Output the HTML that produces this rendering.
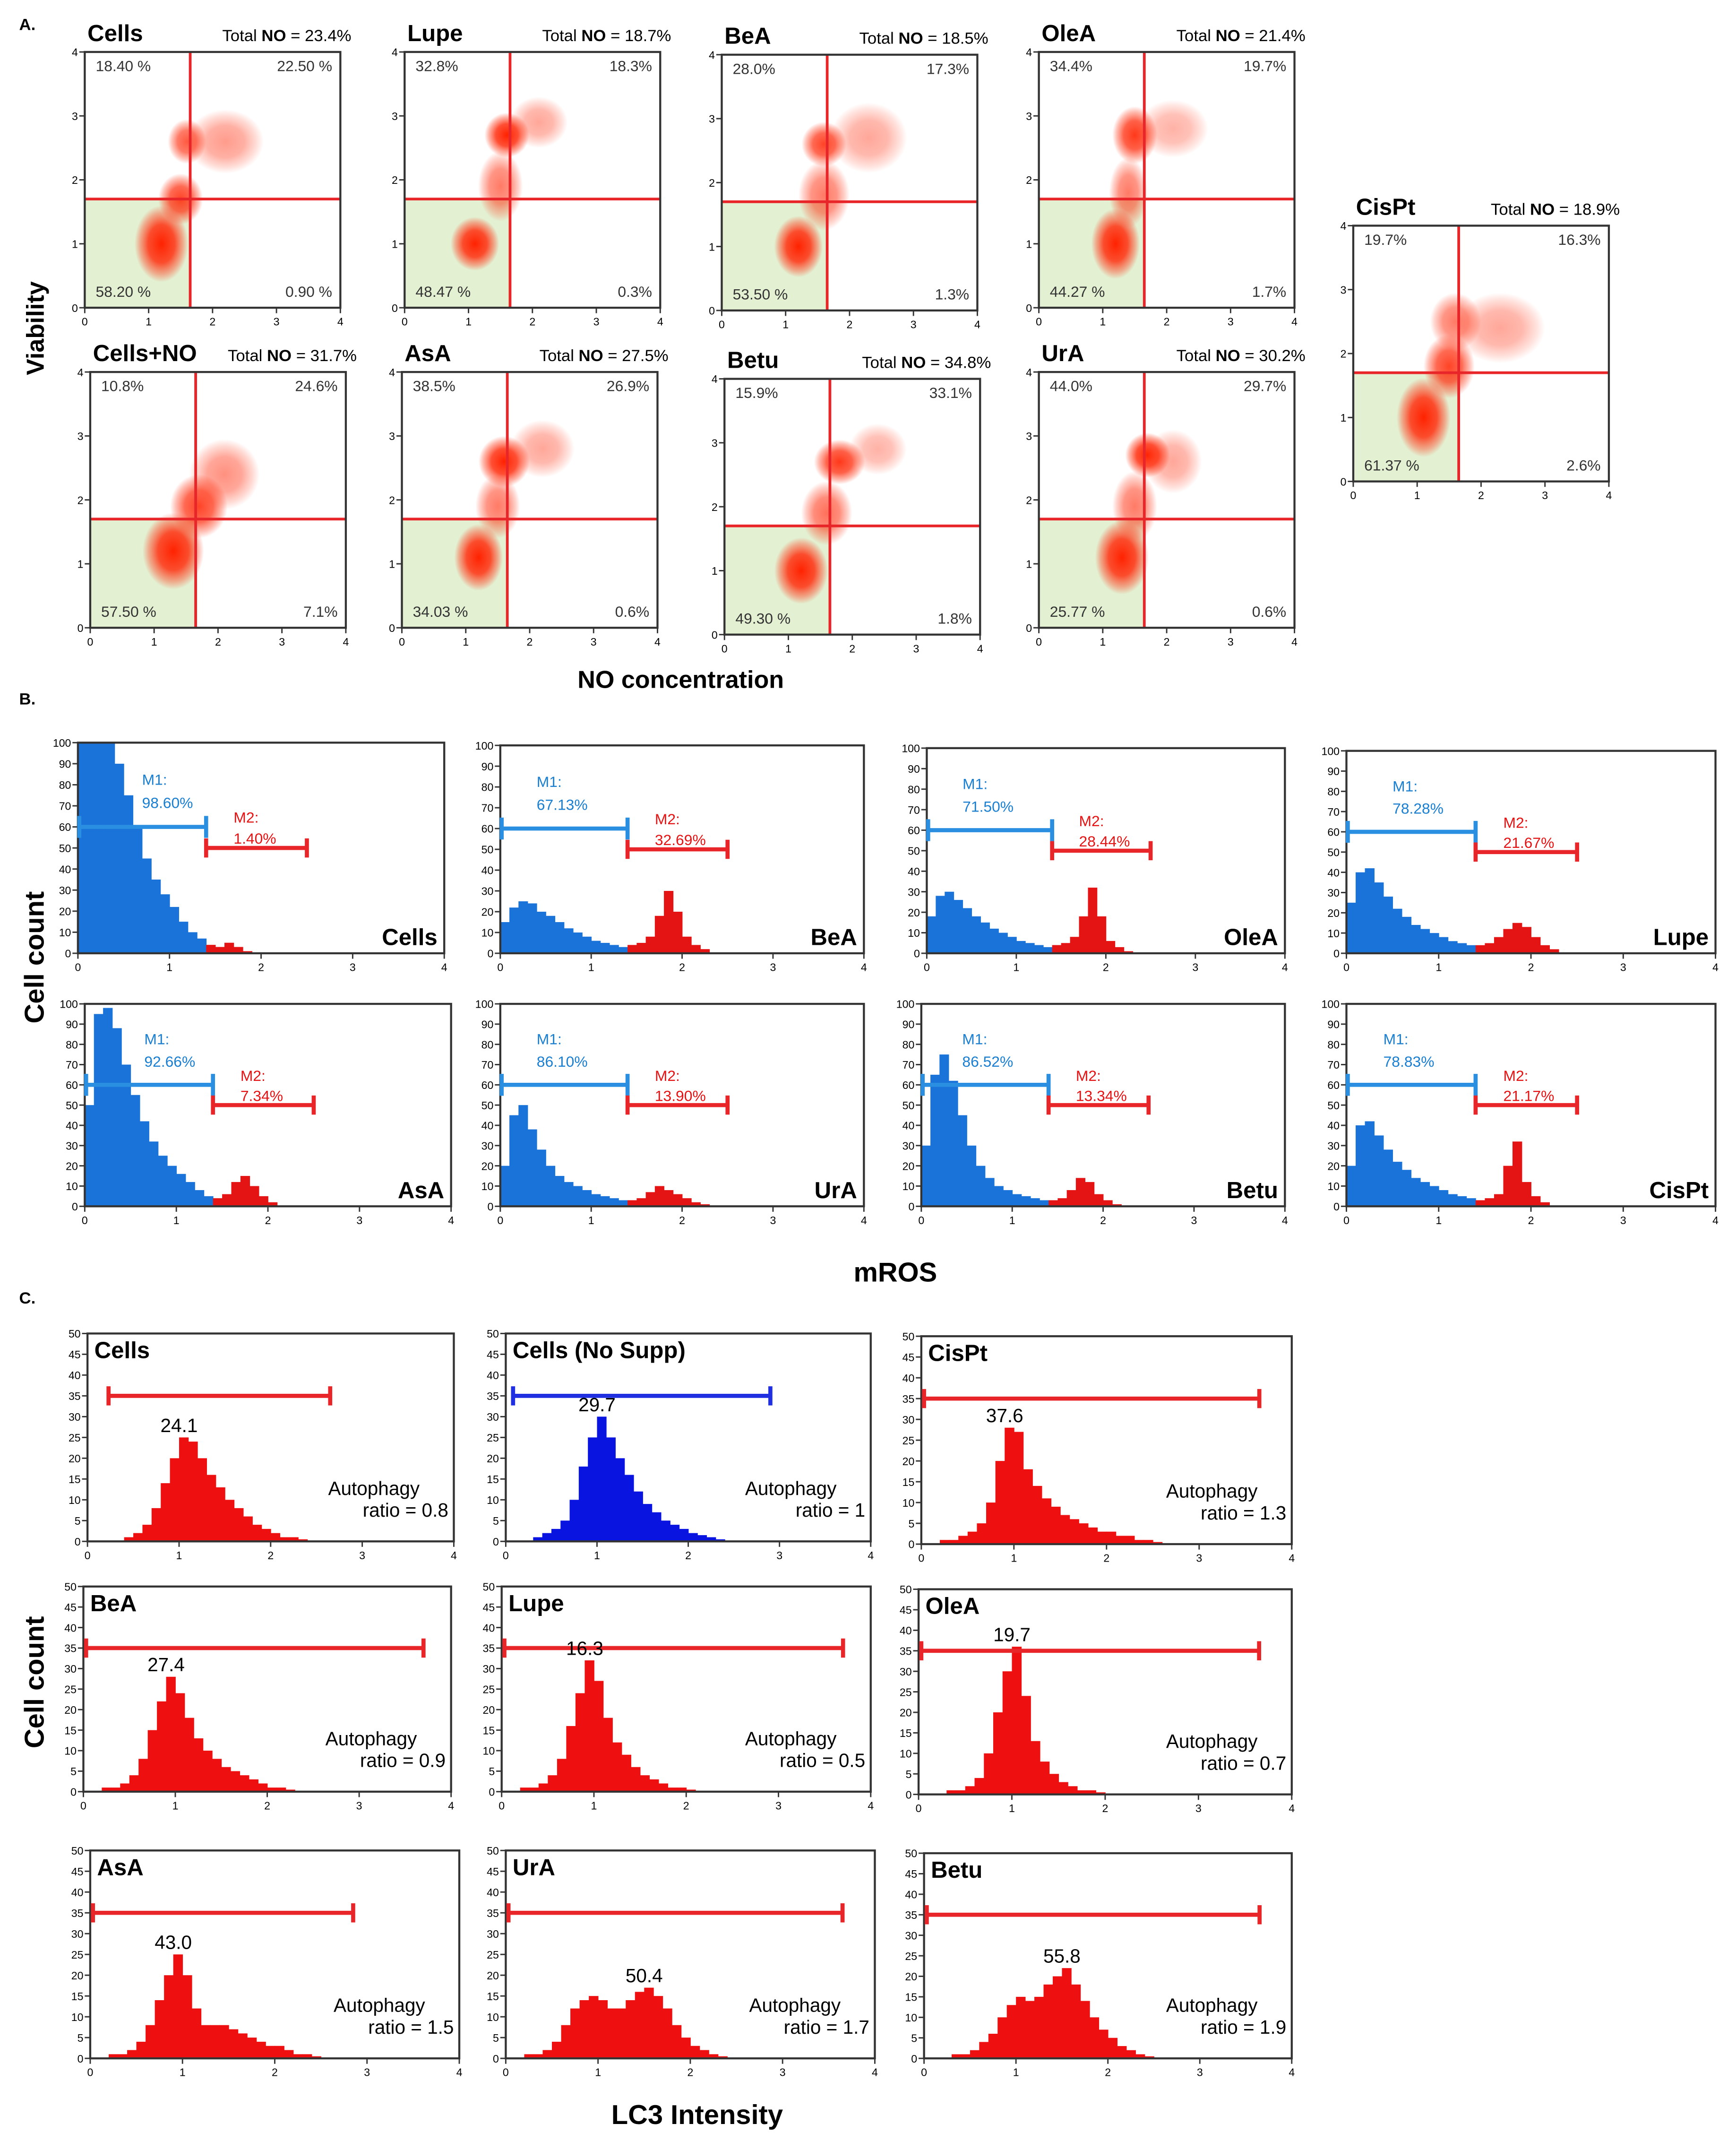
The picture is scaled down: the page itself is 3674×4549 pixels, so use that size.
<!DOCTYPE html>
<html><head><meta charset="utf-8"><style>
html,body{margin:0;padding:0;background:#fff}
svg{display:block}
text{font-family:"Liberation Sans",sans-serif}
</style></head><body>
<svg id="fig" xmlns="http://www.w3.org/2000/svg" width="3674" height="4549" viewBox="0 0 1270 1572" preserveAspectRatio="none">
<defs>
<radialGradient id="rg"><stop offset="0" stop-color="#ff2200" stop-opacity="1"/><stop offset="0.5" stop-color="#ff3010" stop-opacity="0.85"/><stop offset="0.8" stop-color="#ff4020" stop-opacity="0.4"/><stop offset="1" stop-color="#ff4020" stop-opacity="0"/></radialGradient>
</defs>
<g id="root"></g>
</svg>
<script>
// ---------- Section A scatter data ----------
const scatterNames=["Cells","Lupe","BeA","OleA","CisPt","Cells+NO","AsA","Betu","UrA"];
const totalNO=["23.4%","18.7%","18.5%","21.4%","18.9%","31.7%","27.5%","34.8%","30.2%"];
const quadUL=["18.40 %","32.8%","28.0%","34.4%","19.7%","10.8%","38.5%","15.9%","44.0%"];
const quadUR=["22.50 %","18.3%","17.3%","19.7%","16.3%","24.6%","26.9%","33.1%","29.7%"];
const quadLL=["58.20 %","48.47 %","53.50 %","44.27 %","61.37 %","57.50 %","34.03 %","49.30 %","25.77 %"];
const quadLR=["0.90 %","0.3%","1.3%","1.7%","2.6%","7.1%","0.6%","1.8%","0.6%"];
// clusters: [cx, cy, sx, sy, intensity] in data units
const scatterClusters=[
 [[1.2,1.0,0.42,0.6,1],[1.5,1.7,0.35,0.4,0.85],[1.6,2.6,0.3,0.35,0.75],[2.2,2.6,0.6,0.5,0.45]],
 [[1.1,1.0,0.38,0.42,1],[1.6,2.7,0.35,0.35,1],[1.5,1.9,0.35,0.55,0.6],[2.1,2.9,0.45,0.4,0.4]],
 [[1.2,1.0,0.38,0.48,1],[1.6,2.6,0.35,0.35,0.85],[1.6,1.8,0.4,0.55,0.6],[2.3,2.7,0.6,0.55,0.4]],
 [[1.2,1.0,0.38,0.55,1],[1.5,2.7,0.35,0.45,0.9],[1.4,1.8,0.3,0.55,0.6],[2.1,2.8,0.55,0.45,0.35]],
 [[1.1,1.0,0.42,0.62,1],[1.5,1.8,0.4,0.5,0.85],[1.6,2.5,0.4,0.45,0.6],[2.3,2.4,0.7,0.55,0.4]],
 [[1.3,1.2,0.48,0.6,1],[1.7,1.9,0.45,0.5,0.85],[2.1,2.4,0.55,0.55,0.5]],
 [[1.2,1.1,0.38,0.52,1],[1.6,2.6,0.4,0.4,1],[1.5,1.9,0.35,0.5,0.6],[2.2,2.8,0.5,0.45,0.4]],
 [[1.2,1.0,0.42,0.52,1],[1.8,2.7,0.4,0.35,0.9],[1.6,1.9,0.4,0.5,0.65],[2.4,2.9,0.45,0.4,0.35]],
 [[1.3,1.1,0.42,0.58,1],[1.7,2.7,0.35,0.35,1],[1.5,1.9,0.35,0.55,0.6],[2.1,2.6,0.45,0.5,0.4]]
];
const gateX=1.65, gateY=1.7;
// ---------- Section B mROS histograms (0.1-wide bins from 0) ----------
const rosNames=["Cells","BeA","OleA","Lupe","AsA","UrA","Betu","CisPt"];
const rosM1=["98.60%","67.13%","71.50%","78.28%","92.66%","86.10%","86.52%","78.83%"];
const rosM2=["1.40%","32.69%","28.44%","21.67%","7.34%","13.90%","13.34%","21.17%"];
const rosBins=[
 [100,100,100,100,90,75,60,45,35,28,22,15,10,7,4,3,5,3,1,0],
 [15,22,25,24,20,18,15,12,10,8,6,5,4,3,4,5,8,18,30,20,8,4,2,0],
 [18,28,30,26,22,18,15,12,10,8,6,5,4,3,4,5,8,18,32,18,6,3,1,0],
 [25,40,42,35,28,22,18,14,12,10,8,6,5,4,4,5,8,12,15,13,8,4,2,0],
 [50,95,98,88,70,55,42,32,25,20,16,12,8,5,4,6,12,15,10,5,2,0],
 [20,45,50,38,28,20,15,12,10,8,6,5,4,3,3,4,7,10,8,6,4,2,1,0],
 [30,65,75,62,45,30,20,14,10,8,6,5,4,3,3,4,8,14,12,6,3,1,0],
 [20,40,42,35,28,22,18,14,12,10,8,6,5,4,3,4,6,20,32,12,5,2,0]
];
const rosM1LabelX=[0.7,0.4,0.4,0.5,0.65,0.4,0.45,0.4];
const rosSplit=1.4, rosM2End=2.5;
// ---------- Section C LC3 histograms ----------
const lcNames=["Cells","Cells (No Supp)","CisPt","BeA","Lupe","OleA","AsA","UrA","Betu"];
const lcPeakLabel=["24.1","29.7","37.6","27.4","16.3","19.7","43.0","50.4","55.8"];
const lcRatio=["0.8","1","1.3","0.9","0.5","0.7","1.5","1.7","1.9"];
const lcGateStart=[0.2,0.05,0,0,0,0,0,0,0];
const lcGateEnd=[2.65,2.9,3.65,3.7,3.7,3.65,2.85,3.65,3.65];
const lcBins=[
 [0,0,0,0,1,2,4,8,14,20,25,24,20,16,13,10,8,6,4,3,2,1,1,0.5,0],
 [0,0,0,1,2,3,5,10,18,25,30,25,20,16,12,9,7,5,4,3,2,1.5,1,0.5,0],
 [0,0,1,1,2,3,5,10,20,28,27,18,14,11,9,7,6,5,4,3,3,2,2,1,1,0.5,0],
 [0,0,1,1,2,4,8,15,22,28,24,18,13,10,8,6,5,4,3,2,1,1,0.5,0],
 [0,0,1,1,2,4,8,16,24,32,27,18,12,9,6,4,3,2,1,1,0.5,0],
 [0,0,0,1,1,2,4,10,20,30,36,24,13,8,5,3,2,1,1,0.5,0],
 [0,0,1,1,2,4,8,14,20,25,20,12,8,8,8,7,6,5,4,3,3,2,1,1,0.5,0],
 [0,0,1,1,2,4,8,12,14,15,14,12,12,14,16,17,15,12,8,5,3,2,1,0.5,0],
 [0,0,0,1,1,2,4,6,10,13,15,14,15,18,20,22,18,14,10,7,5,3,2,1,0.5,0]
];

const NS="http://www.w3.org/2000/svg";
const root=document.getElementById('root');
function el(tag,attrs,parent,txt){const e=document.createElementNS(NS,tag);for(const k in attrs)e.setAttribute(k,attrs[k]);if(txt!==undefined)e.textContent=txt;(parent||root).appendChild(e);return e;}
function T(x,y,s,size,opt,parent){opt=opt||{};const a={x:x,y:y,'font-size':size,fill:opt.fill||'#000'};if(opt.bold)a['font-weight']='bold';if(opt.anchor)a['text-anchor']=opt.anchor;if(opt.tr)a.transform=opt.tr;return el('text',a,parent,s);}

function axes(g,x0,y0,w,h,xmax,ymax,yticks){
  el('rect',{x:x0,y:y0,width:w,height:h,fill:'none',stroke:'#333','stroke-width':1.5},g);
  for(let i=0;i<=xmax;i++){const x=x0+i/xmax*w;el('line',{x1:x,y1:y0+h,x2:x,y2:y0+h+4,stroke:'#333'},g);T(x,y0+h+13,String(i),8,{anchor:'middle'},g);}
  yticks.forEach(v=>{const y=y0+h-v/ymax*h;el('line',{x1:x0-4,y1:y,x2:x0,y2:y,stroke:'#333'},g);T(x0-5,y+3,String(v),8,{anchor:'end'},g);});
}

// ---- A ----
T(14,22,"A.",12,{bold:true});
const aPos=[[62,38],[296,38],[528,40],[760,38],[990,165],[66,272],[294,272],[530,277],[760,272]];
const aW=187,aH=187;
scatterNames.forEach((n,i)=>{
  const [x0,y0]=aPos[i];
  const g=el('g',{});
  
  
  const sx=v=>x0+v/4*aW, sy=v=>y0+aH-v/4*aH;
  el('rect',{x:x0,y:sy(gateY),width:sx(gateX)-x0,height:y0+aH-sy(gateY),fill:'#e3f0d2'},g);
  scatterClusters[i].forEach(c=>{
    const e=el('ellipse',{cx:sx(c[0]),cy:sy(c[1]),rx:c[2]/4*aW,ry:c[3]/4*aH,fill:'url(#rg)',opacity:c[4]},g);
    
    
  });
  el('line',{x1:sx(gateX),y1:y0,x2:sx(gateX),y2:y0+aH,stroke:'#e8262a','stroke-width':2},g);
  el('line',{x1:x0,y1:sy(gateY),x2:x0+aW,y2:sy(gateY),stroke:'#e8262a','stroke-width':2},g);
  axes(g,x0,y0,aW,aH,4,4,[0,1,2,3,4]);
  T(x0+2,y0-8,n,17,{bold:true},g);
  const tn=el('text',{x:x0+aW+8,y:y0-8,'font-size':12,'text-anchor':'end'},g);
  el('tspan',{},tn,"Total ");el('tspan',{'font-weight':'bold'},tn,"NO");el('tspan',{},tn," = "+totalNO[i]);
  T(x0+8,y0+14,quadUL[i],11,{fill:'#333'},g);
  T(x0+aW-6,y0+14,quadUR[i],11,{anchor:'end',fill:'#333'},g);
  T(x0+8,y0+aH-8,quadLL[i],11,{fill:'#333'},g);
  T(x0+aW-6,y0+aH-8,quadLR[i],11,{anchor:'end',fill:'#333'},g);
});
T(32,240,"Viability",18,{bold:true,anchor:'middle',tr:'rotate(-90 32 240)'});
T(498,503,"NO concentration",18,{bold:true,anchor:'middle'});

// ---- B ----
T(14,515,"B.",12,{bold:true});
const bPos=[[57,543,268,154],[366,545,266,152],[678,547,262,150],[985,549,270,148],[62,734,268,148],[366,734,266,148],[674,734,266,148],[985,734,270,148]];
rosNames.forEach((n,i)=>{
  const [x0,y0,w,h]=bPos[i];
  const g=el('g',{});
  
  
  const sx=v=>x0+v/4*w, sy=v=>y0+h-Math.min(v,100)/100*h;
  rosBins[i].forEach((v,k)=>{
    const lo=k*0.1;
    const r=el('rect',{x:sx(lo),y:sy(v),width:sx(lo+0.1)-sx(lo)+0.3,height:y0+h-sy(v),fill:lo<rosSplit-0.01?'#1a73d9':'#e41414'},g);
    
    
  });
  axes(g,x0,y0,w,h,4,100,[0,10,20,30,40,50,60,70,80,90,100]);
  const b='#2a8fe0',rd='#e8262a';
  el('line',{x1:sx(0),y1:sy(60),x2:sx(rosSplit),y2:sy(60),stroke:b,'stroke-width':3},g);
  el('line',{x1:sx(0)+1,y1:sy(60)-8,x2:sx(0)+1,y2:sy(60)+8,stroke:b,'stroke-width':3},g);
  el('line',{x1:sx(rosSplit),y1:sy(60)-8,x2:sx(rosSplit),y2:sy(60)+8,stroke:b,'stroke-width':3},g);
  el('line',{x1:sx(rosSplit),y1:sy(50),x2:sx(rosM2End),y2:sy(50),stroke:rd,'stroke-width':3},g);
  el('line',{x1:sx(rosSplit),y1:sy(50)-7,x2:sx(rosSplit),y2:sy(50)+7,stroke:rd,'stroke-width':3},g);
  el('line',{x1:sx(rosM2End),y1:sy(50)-7,x2:sx(rosM2End),y2:sy(50)+7,stroke:rd,'stroke-width':3},g);
  const mx=rosM1LabelX[i];
  T(sx(mx),sy(80),"M1:",11,{fill:'#1a7fd0'},g);T(sx(mx),sy(69),rosM1[i],11,{fill:'#1a7fd0'},g);
  T(sx(1.7),sy(62),"M2:",11,{fill:'#e41414'},g);T(sx(1.7),sy(52),rosM2[i],11,{fill:'#e41414'},g);
  T(x0+w-5,y0+h-6,n,17,{bold:true,anchor:'end'},g);
});
T(32,700,"Cell count",20,{bold:true,anchor:'middle',tr:'rotate(-90 32 700)'});
T(655,937,"mROS",20,{bold:true,anchor:'middle'});

// ---- C ----
T(14,953,"C.",12,{bold:true});
const cPos=[[64,975,268,152],[370,975,267,152],[674,977,271,152],[61,1160,269,150],[367,1160,270,150],[672,1162,273,150],[66,1353,270,152],[370,1353,270,152],[676,1355,269,150]];
lcNames.forEach((n,i)=>{
  const [x0,y0,w,h]=cPos[i];
  const g=el('g',{});
  
  
  const sx=v=>x0+v/4*w, sy=v=>y0+h-v/50*h;
  const col=i===1?'#0a14e0':'#ee1010';
  lcBins[i].forEach((v,k)=>{
    const lo=k*0.1;
    const r=el('rect',{x:sx(lo),y:sy(v),width:sx(lo+0.1)-sx(lo)+0.3,height:y0+h-sy(v),fill:col},g);
    
    
  });
  axes(g,x0,y0,w,h,4,50,[0,5,10,15,20,25,30,35,40,45,50]);
  const gc=i===1?'#2030e0':'#e8262a';
  const gy=sy(35),gx1=sx(lcGateStart[i])+2,gx2=sx(lcGateEnd[i]);
  el('line',{x1:gx1,y1:gy,x2:gx2,y2:gy,stroke:gc,'stroke-width':3},g);
  el('line',{x1:gx1,y1:gy-7,x2:gx1,y2:gy+7,stroke:gc,'stroke-width':3},g);
  el('line',{x1:gx2,y1:gy-7,x2:gx2,y2:gy+7,stroke:gc,'stroke-width':3},g);
  T(x0+5,y0+18,n,17,{bold:true},g);
  let mk=0;lcBins[i].forEach((v,k)=>{if(v>lcBins[i][mk])mk=k;});
  T(sx(mk*0.1),sy(lcBins[i][mk])-4,lcPeakLabel[i],14,{anchor:'middle'},g);
  T(x0+w-25,y0+h-34,"Autophagy",14,{anchor:'end'},g);
  T(x0+w-4,y0+h-18,"ratio   = "+lcRatio[i],14,{anchor:'end'},g);
});
T(32,1230,"Cell count",20,{bold:true,anchor:'middle',tr:'rotate(-90 32 1230)'});
T(510,1553,"LC3 Intensity",20,{bold:true,anchor:'middle'});
</script>
</body></html>
